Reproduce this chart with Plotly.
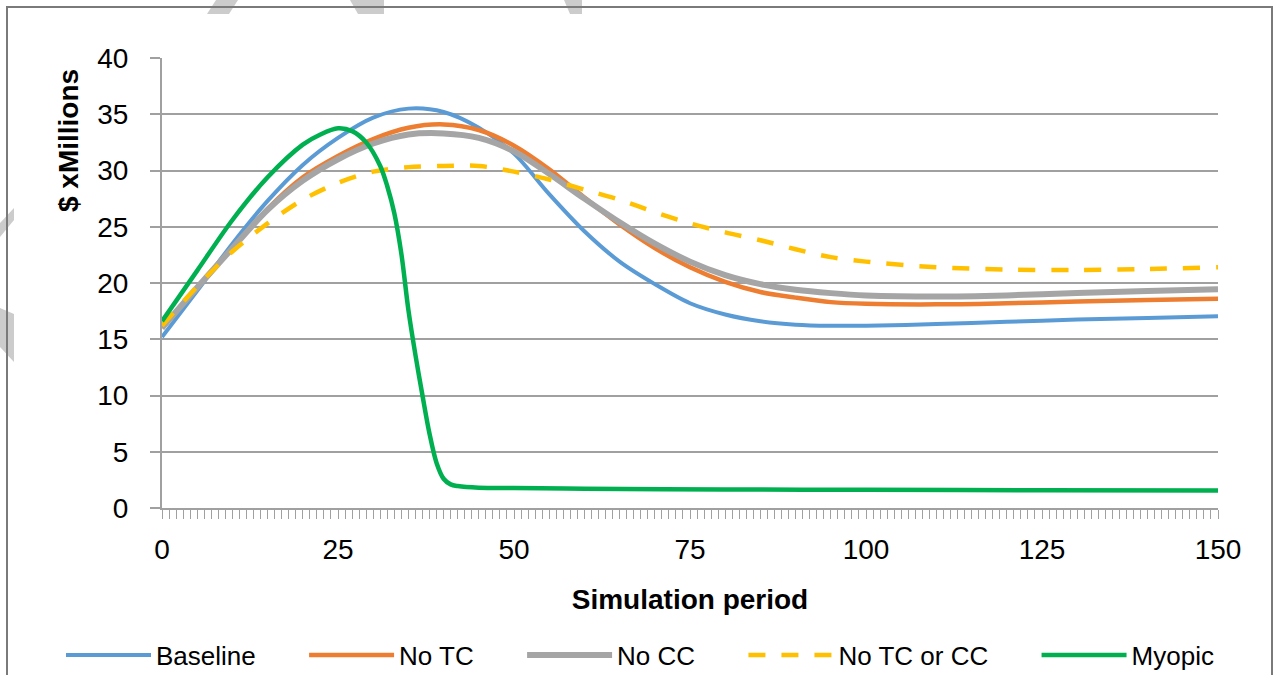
import plotly.graph_objects as go

# ---------------- data ----------------
period = [0, 5, 10, 15, 20, 25, 30, 35, 40, 45, 50, 55, 60, 65, 70, 75, 80, 85, 90, 95, 100, 110, 120, 130, 140, 150]

baseline_v = [15.2, 19.3, 23.5, 27.3, 30.5, 32.9, 34.7, 35.5, 35.2, 33.8, 31.5, 27.9, 24.6, 21.9, 19.9, 18.2, 17.2, 16.6, 16.3, 16.2, 16.2, 16.35, 16.55, 16.75, 16.9, 17.05]
notc_v = [16.0, 19.6, 23.1, 26.6, 29.4, 31.3, 32.8, 33.8, 34.1, 33.6, 32.2, 30.1, 27.6, 25.2, 23.1, 21.4, 20.1, 19.2, 18.7, 18.3, 18.15, 18.1, 18.2, 18.35, 18.5, 18.6]
nocc_v = [16.0, 19.6, 23.1, 26.5, 29.1, 31.0, 32.4, 33.2, 33.3, 32.9, 31.7, 29.7, 27.5, 25.4, 23.5, 21.9, 20.7, 19.9, 19.4, 19.1, 18.9, 18.8, 18.9, 19.1, 19.3, 19.45]
notc_cc_v = [16.2, 19.7, 22.8, 25.3, 27.4, 28.9, 29.9, 30.3, 30.4, 30.4, 29.9, 29.2, 28.3, 27.4, 26.3, 25.3, 24.5, 23.8, 23.0, 22.3, 21.9, 21.4, 21.2, 21.15, 21.25, 21.4]

myopic_t = [0, 5, 10, 15, 20, 22.5, 25, 27, 29, 31, 32, 33, 34, 35, 36, 37, 38, 39, 40, 41, 42, 45, 50, 60, 80, 100, 125, 150]
myopic_v = [16.6, 21.1, 25.6, 29.4, 32.3, 33.2, 33.75, 33.5, 32.5, 30.4, 28.6, 26.2, 22.6, 17.6, 13.6, 10.0, 6.6, 4.0, 2.6, 2.1, 1.95, 1.8, 1.77, 1.72, 1.65, 1.62, 1.57, 1.55]

series_names = ["Baseline", "No TC", "No CC", "No TC or CC", "Myopic"]
x_tick_vals = [0, 25, 50, 75, 100, 125, 150]
y_tick_vals = [0, 5, 10, 15, 20, 25, 30, 35, 40]

# ---------------- styling ----------------
FONT = "Liberation Sans, Arial, sans-serif"
colors = ["#5B9BD5", "#ED7D31", "#A5A5A5", "#FFC000", "#00B050"]
widths = [4, 4.5, 6, 4.5, 4.5]
dashes = ["solid", "solid", "solid", "17px,16px", "solid"]
GRID = "#a0a0a0"
PAD = "\u00a0" * 6

W, H = 1274, 675
L, R, T, B = 162, 56, 58, 167
PW, PH = W - L - R, H - T - B


def px(xp):
    return (xp - L) / PW


def py(yp):
    return (H - B - yp) / PH


fig = go.Figure()
data = [(period, baseline_v), (period, notc_v), (period, nocc_v),
        (period, notc_cc_v), (myopic_t, myopic_v)]
for i, ((t, v), name, c, w, d) in enumerate(zip(data, series_names, colors, widths, dashes)):
    label = name + (PAD if i < len(series_names) - 1 else "")
    fig.add_trace(go.Scatter(
        x=t, y=v, name=label, mode="lines",
        line=dict(color=c, width=w, dash=d, shape="spline", smoothing=0.9),
    ))

# watermark bands and chart border (decoration)
wm = [
    [(216, 0), (238, 0), (229, 14), (207, 14)],
    [(350, 0), (384, 0), (384, 14), (358, 14)],
    [(564, 0), (582, 0), (582, 14), (570, 14)],
    [(14, 208), (14, 220), (0, 237), (0, 223)],
    [(14, 314), (14, 362), (0, 347), (0, 308)],
]
shapes = []
for poly in wm:
    path = "M " + " L ".join(f"{px(a):.5f},{py(b):.5f}" for a, b in poly) + " Z"
    shapes.append(dict(type="path", xref="paper", yref="paper", path=path,
                       fillcolor="#cccccc", line=dict(width=0), layer="below"))
shapes.append(dict(type="rect", xref="paper", yref="paper",
                   x0=px(7), x1=px(1272), y0=py(690), y1=py(7),
                   line=dict(color="#7a7a7a", width=2), fillcolor="rgba(0,0,0,0)",
                   layer="below"))

fig.update_layout(
    width=W, height=H,
    margin=dict(l=L, r=R, t=T, b=B, pad=0, autoexpand=False),
    paper_bgcolor="white", plot_bgcolor="white",
    font=dict(family=FONT, color="black"),
    shapes=shapes,
    showlegend=True,
    legend=dict(orientation="h", x=px(61), xanchor="left", y=py(655), yanchor="middle",
                font=dict(size=26, family=FONT, color="black"),
                itemwidth=85, bgcolor="rgba(0,0,0,0)"),
    annotations=[dict(text="<b>$ xMillions</b>", xref="paper", yref="paper",
                      x=px(68), y=py(141), textangle=-90, showarrow=False,
                      font=dict(size=28, family=FONT, color="black"),
                      xanchor="center", yanchor="middle")],
)

fig.update_xaxes(
    range=[0, 150], tickvals=x_tick_vals, ticktext=[str(v) for v in x_tick_vals],
    showgrid=False, zeroline=False, showline=True, linecolor=GRID, linewidth=2,
    ticks="outside", ticklen=9, tickcolor=GRID, tickwidth=1, automargin=False,
    minor=dict(dtick=1, tick0=0, ticks="outside", ticklen=9, tickcolor=GRID, tickwidth=1, showgrid=False),
    tickfont=dict(size=28, family=FONT, color="black"), ticklabelstandoff=6,
    title=dict(text="<b>Simulation period</b>", font=dict(size=28, family=FONT, color="black"), standoff=26),
)
fig.update_yaxes(
    range=[0, 40], tickvals=y_tick_vals, ticktext=[str(v) for v in y_tick_vals],
    showgrid=True, gridcolor=GRID, gridwidth=2, zeroline=False,
    showline=True, linecolor=GRID, linewidth=2, automargin=False,
    ticks="outside", ticklen=10, tickcolor=GRID, tickwidth=2,
    tickfont=dict(size=28, family=FONT, color="black"), ticklabelstandoff=16,
)

fig.write_html("out.html")
